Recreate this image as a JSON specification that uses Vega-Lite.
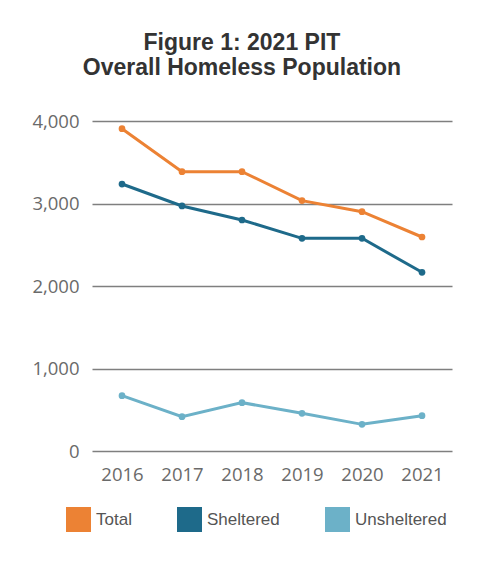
{
  "$schema": "https://vega.github.io/schema/vega-lite/v6.json",
  "width": 360,
  "height": 330,
  "background": "white",
  "padding": {"left": 31, "top": 32, "right": 5, "bottom": 5},
  "title": {
    "text": ["Figure 1: 2021 PIT", "Overall Homeless Population"],
    "font": "Liberation Sans",
    "fontSize": 23,
    "fontWeight": "bold",
    "color": "#333333",
    "anchor": "middle",
    "frame": "bounds",
    "lineHeight": 25,
    "offset": 32
  },
  "data": {
    "values": [
      {"year": "2016", "series": "Total", "count": 3907},
      {"year": "2017", "series": "Total", "count": 3386},
      {"year": "2018", "series": "Total", "count": 3386},
      {"year": "2019", "series": "Total", "count": 3035},
      {"year": "2020", "series": "Total", "count": 2901},
      {"year": "2021", "series": "Total", "count": 2594},
      {"year": "2016", "series": "Sheltered", "count": 3236},
      {"year": "2017", "series": "Sheltered", "count": 2970},
      {"year": "2018", "series": "Sheltered", "count": 2800},
      {"year": "2019", "series": "Sheltered", "count": 2578},
      {"year": "2020", "series": "Sheltered", "count": 2578},
      {"year": "2021", "series": "Sheltered", "count": 2166},
      {"year": "2016", "series": "Unsheltered", "count": 671},
      {"year": "2017", "series": "Unsheltered", "count": 416},
      {"year": "2018", "series": "Unsheltered", "count": 586},
      {"year": "2019", "series": "Unsheltered", "count": 457},
      {"year": "2020", "series": "Unsheltered", "count": 323},
      {"year": "2021", "series": "Unsheltered", "count": 428}
    ]
  },
  "encoding": {
    "x": {
      "field": "year",
      "type": "ordinal",
      "scale": {"type": "point", "padding": 0.5},
      "axis": {
        "title": null,
        "labelAngle": 0,
        "labelFont": "Open Sans",
        "labelFontSize": 18.5,
        "labelColor": "#6a6a6a",
        "labelPadding": 14,
        "ticks": false,
        "domain": false,
        "grid": false
      }
    },
    "y": {
      "field": "count",
      "type": "quantitative",
      "scale": {"domain": [0, 4000], "nice": false},
      "axis": {
        "title": null,
        "values": [0, 1000, 2000, 3000, 4000],
        "format": ",.0f",
        "labelFont": "Open Sans",
        "labelFontSize": 18.5,
        "labelColor": "#6a6a6a",
        "labelPadding": 13,
        "ticks": false,
        "domain": false,
        "grid": true,
        "gridColor": "#7f7f7f",
        "gridWidth": 1.6
      }
    },
    "color": {
      "field": "series",
      "type": "nominal",
      "scale": {
        "domain": ["Total", "Sheltered", "Unsheltered"],
        "range": ["#EC8234", "#1E6A8A", "#6CB1C8"]
      },
      "legend": {
        "title": null,
        "orient": "none",
        "direction": "horizontal",
        "legendX": -26,
        "legendY": 386,
        "symbolType": "square",
        "symbolSize": 625,
        "symbolStrokeWidth": 0,
        "symbolOpacity": 1,
        "labelFont": "Liberation Sans",
        "labelFontSize": 17,
        "labelColor": "#555555",
        "labelOffset": 5,
        "columnPadding": 45,
        "encode": {
          "symbols": {"update": {"fill": {"scale": "color", "field": "value"}, "fillOpacity": {"value": 1}}}
        }
      }
    }
  },
  "layer": [
    {"mark": {"type": "line", "strokeWidth": 3}},
    {"mark": {"type": "circle", "size": 45, "opacity": 1}}
  ],
  "config": {"view": {"stroke": null}}
}
